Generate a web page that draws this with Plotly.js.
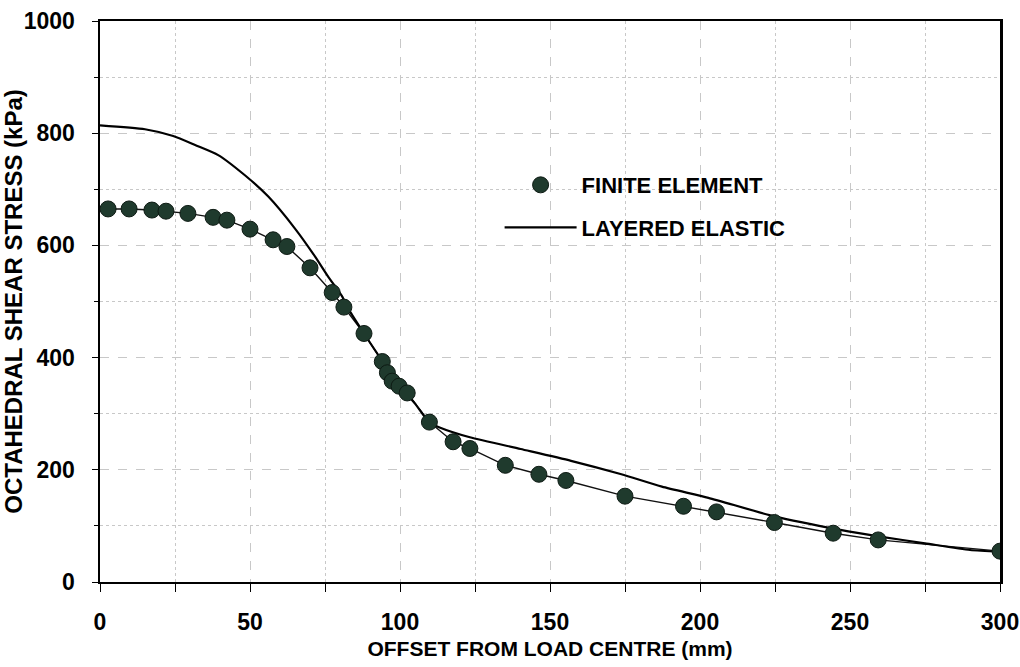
<!DOCTYPE html>
<html>
<head>
<meta charset="utf-8">
<script src="https://cdn.plot.ly/plotly-3.0.1.min.js"></script>
<style>
  html, body { margin: 0; padding: 0; background: #ffffff; }
  #chart { width: 1020px; height: 667px; }
</style>
</head>
<body>
<div id="chart"></div>
<script>
// Finite element results (offset mm, octahedral shear stress kPa)
const feOffset = [2.7, 9.7, 17.3, 22, 29.3, 37.7, 42.3, 50, 57.7, 62.3, 70, 77.4, 81.3, 88, 94.1, 95.8, 97.4, 99.7, 102.4, 109.8, 117.7, 123.3, 135.1, 146.3, 155.3, 175, 194.5, 205.5, 224.8, 244.4, 259.4, 300];
const feStress = [665, 665, 663, 661, 657, 650, 645, 629, 610, 598, 560, 516, 490, 443, 393, 373, 358, 349, 337, 285, 250, 238, 208, 192, 181, 153, 135, 125, 106, 87, 75, 55];

// Layered elastic results
const leOffset = [0, 15, 24.4, 31.7, 39.4, 48.3, 56.1, 65, 71.7, 76.1, 80.6, 83, 88, 94, 100, 105, 109.7, 113, 123.3, 140.2, 157, 173.8, 187.3, 202.8, 224.8, 246.8, 260, 275, 290, 300];
const leStress = [814, 807, 795, 779, 761, 725, 687, 630, 580, 544, 510, 485, 443, 395, 350, 318, 285, 276, 258, 237, 216, 192, 170, 150, 117, 93, 81, 69, 57, 54];

const seriesNames = ['FINITE ELEMENT', 'LAYERED ELASTIC'];
const xTitle = 'OFFSET FROM LOAD CENTRE (mm)';
const yTitle = 'OCTAHEDRAL SHEAR STRESS (kPa)';

const FONT = 'Liberation Sans, Arial, Helvetica, sans-serif';

const traces = [
  {
    x: feOffset, y: feStress, mode: 'lines', type: 'scatter',
    line: {color: '#111111', width: 1.4},
    showlegend: false, hoverinfo: 'skip'
  },
  {
    x: leOffset, y: leStress, mode: 'lines', type: 'scatter',
    name: seriesNames[1], legendgroup: 'b', legendrank: 2,
    line: {color: '#000000', width: 2.2, shape: 'spline', smoothing: 0.6}
  },
  {
    x: feOffset, y: feStress, mode: 'markers', type: 'scatter',
    name: seriesNames[0], legendgroup: 'a', legendrank: 1,
    marker: {symbol: 'circle', size: 16, color: '#1f3a2d', line: {color: '#0d1a13', width: 1}}
  }
];

const gridCol = '#c8c8c8';

const layout = {
  width: 1020, height: 667,
  margin: {l: 100, r: 20, t: 21, b: 85},
  paper_bgcolor: '#ffffff', plot_bgcolor: '#ffffff',
  font: {family: FONT, color: '#000000', size: 18, weight: 'bold'},
  showlegend: true,
  legend: {
    x: 0.444, y: 0.745, xanchor: 'left', yanchor: 'top',
    bgcolor: 'rgba(0,0,0,0)', borderwidth: 0,
    font: {family: FONT, size: 22, weight: 'bold', color: '#000'},
    traceorder: 'grouped', tracegroupgap: 11, itemwidth: 72
  },
  xaxis: {
    range: [0, 300], dtick: 50, tick0: 0,
    showline: true, linecolor: '#000', linewidth: 2, mirror: true,
    ticks: 'outside', ticklen: 8, tickcolor: '#000', tickwidth: 1,
    ticklabelstandoff: 10,
    tickfont: {family: FONT, size: 23, weight: 'bold'},
    showgrid: true, gridcolor: gridCol, gridwidth: 1, griddash: 'dash',
    minor: {dtick: 25, ticks: 'outside', ticklen: 8, tickcolor: '#000', showgrid: true, gridcolor: gridCol, griddash: 'dot', gridwidth: 1},
    zeroline: false,
    title: {text: xTitle, font: {family: FONT, size: 21, weight: 'bold'}, standoff: 8}
  },
  yaxis: {
    range: [0, 1000], dtick: 200, tick0: 0,
    showline: true, linecolor: '#000', linewidth: 2.5, mirror: true,
    ticks: 'outside', ticklen: 6, tickcolor: '#000', tickwidth: 1,
    ticklabelstandoff: 12,
    tickfont: {family: FONT, size: 23, weight: 'bold'},
    showgrid: true, gridcolor: gridCol, gridwidth: 1, griddash: 'dash',
    minor: {dtick: 100, ticks: 'outside', ticklen: 4, tickcolor: '#000', showgrid: true, gridcolor: gridCol, griddash: 'dot', gridwidth: 1},
    zeroline: false,
    title: {text: yTitle, font: {family: FONT, size: 24, weight: 'bold'}, standoff: 8}
  }
};

Plotly.newPlot('chart', traces, layout, {displayModeBar: false, staticPlot: true});
</script>
</body>
</html>
